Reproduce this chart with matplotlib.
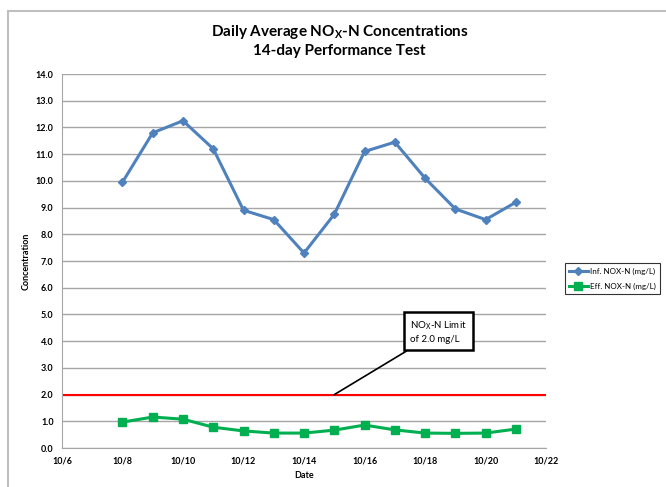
import matplotlib.pyplot as plt
import matplotlib.dates as mdates
import pandas as pd
from matplotlib.lines import Line2D

plt.rcParams['font.family'] = ['Lato', 'DejaVu Sans']

dates = pd.date_range("2010-10-08", "2010-10-21", freq="D")
inf_nox = [9.95, 11.8, 12.25, 11.2, 8.9, 8.55, 7.3, 8.75, 11.1, 11.45, 10.1, 8.95, 8.55, 9.2]
eff_nox = [0.97, 1.16, 1.08, 0.78, 0.64, 0.56, 0.56, 0.67, 0.86, 0.68, 0.56, 0.55, 0.56, 0.71]
limit = 2.0
x_start = pd.Timestamp("2010-10-06")
x_end = pd.Timestamp("2010-10-22")

fig = plt.figure(figsize=(6.66, 4.87), dpi=100)
ax = fig.add_axes([0.093, 0.08, 0.727, 0.768])

# outer chart frame
fig.add_artist(Line2D([8/666, 8/666], [0, 1 - 11/487], color="#bfbfbf", lw=1.5))
fig.add_artist(Line2D([8/666, 1], [1 - 11/487, 1 - 11/487], color="#bfbfbf", lw=1.5))

ax.plot(dates, inf_nox, color="#4f81bd", lw=2.2, marker="D", ms=4.5,
        label="Inf. NOX-N (mg/L)")
ax.plot(dates, eff_nox, color="#00b050", lw=2.2, marker="s", ms=5.5,
        label="Eff. NOX-N (mg/L)")
ax.plot([x_start, x_end], [limit, limit], color="#ff0000", lw=1.5)

ax.set_xlim(x_start, x_end)
ax.set_ylim(0, 14)
ax.set_yticks(range(0, 15))
ax.set_yticklabels([f"{v:.1f}" for v in range(0, 15)])
ax.set_xticks(pd.date_range(x_start, x_end, freq="2D"))
ax.xaxis.set_major_formatter(plt.FuncFormatter(
    lambda v, p: f"{mdates.num2date(v).month}/{mdates.num2date(v).day}"))

ax.grid(axis="y", color="#a6a6a6", lw=1)
ax.set_axisbelow(True)
for s in ["top", "right"]:
    ax.spines[s].set_visible(False)
for s in ["left", "bottom"]:
    ax.spines[s].set_color("#a6a6a6")
ax.tick_params(axis="both", labelsize=6.5, length=0, pad=6)
for lbl in ax.get_xticklabels() + ax.get_yticklabels():
    lbl.set_fontweight("bold")

ax.set_xlabel("Date", fontsize=6.5, fontweight="bold", labelpad=4)
ax.set_ylabel("Concentration", fontsize=6.5, fontweight="bold", labelpad=4)

fig.text(0.51, 0.917, "Daily Average NO$_\\mathregular{X}$-N Concentrations\n14-day Performance Test",
         ha="center", va="center", fontsize=11, fontweight="bold", linespacing=1.3)

ax.annotate("NO$_\\mathregular{X}$-N Limit\nof 2.0 mg/L",
            xy=(pd.Timestamp("2010-10-15"), limit),
            xytext=(pd.Timestamp("2010-10-17 12:00"), 4.35),
            fontsize=7, ha="left", va="center", linespacing=1.5,
            bbox=dict(boxstyle="square,pad=0.6", fc="white", ec="black", lw=1.8),
            arrowprops=dict(arrowstyle="-", color="black", lw=1.2,
                            shrinkA=0, shrinkB=0))

leg = fig.legend(loc="center left", bbox_to_anchor=(0.848, 0.428), fontsize=5.8,
                 frameon=True, fancybox=False, edgecolor="black",
                 handlelength=2.4, borderpad=0.5, labelspacing=1.0, handletextpad=0.2,
                 borderaxespad=0)
leg.get_frame().set_linewidth(0.8)

fig.savefig("out.png", dpi=100)
